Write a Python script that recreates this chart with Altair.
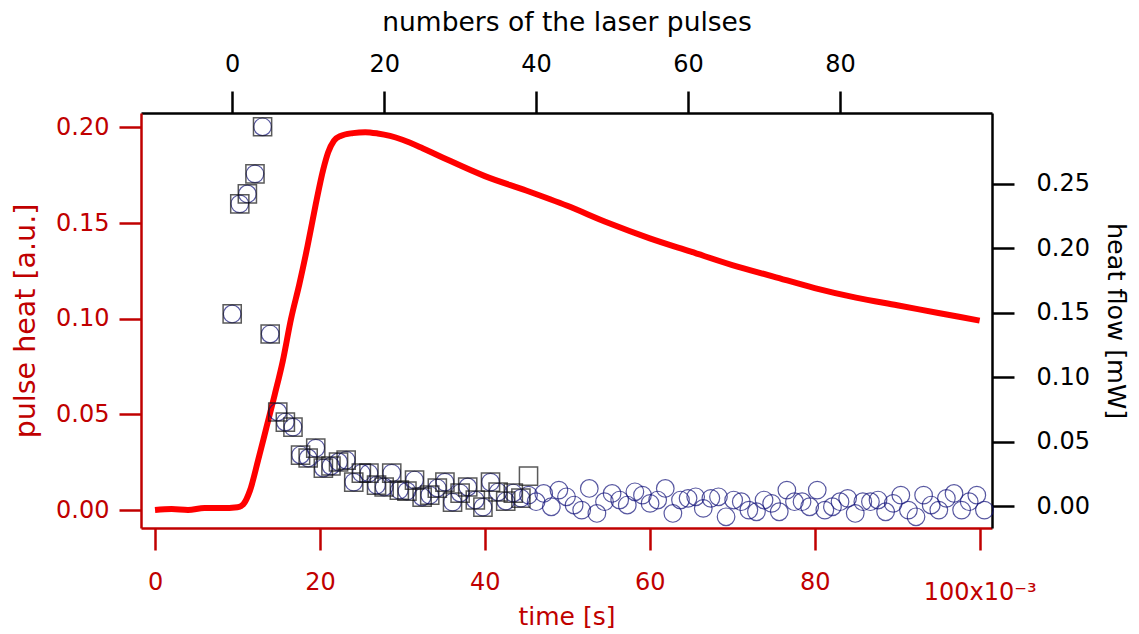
import altair as alt
import pandas as pd

# ---- red trace: pulse heat vs time (bottom / left axes) ----
time_s = [0, 2, 4, 6, 8, 10, 10.7, 11.5, 12.5, 13.5, 14.5, 15.5, 16.5, 17.5, 18.5,
          19.5, 20.4, 21, 21.7, 22.5, 24, 25.5, 27, 28.5, 30, 32.5, 35, 40,
          45, 50, 55, 60, 65, 70, 75, 80, 85, 90, 95, 100]
pulse_heat = [0.000, 0.0005, 0.000, 0.001, 0.001, 0.0015, 0.003, 0.010, 0.026, 0.043,
              0.060, 0.078, 0.100, 0.118, 0.138, 0.160, 0.178, 0.187, 0.193, 0.1955,
              0.197, 0.1975, 0.1968, 0.1955, 0.1935, 0.189, 0.184, 0.1745,
              0.167, 0.159, 0.150, 0.142, 0.135, 0.128, 0.122, 0.116, 0.111, 0.107,
              0.103, 0.099]

# ---- squares: heat flow vs pulse number (top / right axes) ----
sq_pulse = list(range(40))
sq_flow = [0.1491, 0.2345, 0.2422, 0.2578, 0.2943, 0.1335, 0.0730, 0.0652, 0.0613, 0.0396,
           0.0373, 0.0450, 0.0295, 0.0311, 0.0342, 0.0357, 0.0186, 0.0256, 0.0256, 0.0163,
           0.0148, 0.0256, 0.0124, 0.0116, 0.0202, 0.0070, 0.0085, 0.0140, 0.0186, 0.0031,
           0.0101, 0.0148, 0.0047, -0.0008, 0.0186, 0.0109, 0.0039, 0.0101, 0.0062, 0.0233]

# ---- circles: heat flow vs pulse number ----
circ_pulse = list(range(100))
circ_flow = [0.1491, 0.2345, 0.2422, 0.2578, 0.2943, 0.1335, 0.0730, 0.0652, 0.0613, 0.0396,
             0.0373, 0.0450, 0.0295, 0.0311, 0.0342, 0.0357, 0.0186, 0.0256, 0.0256, 0.0163,
             0.0148, 0.0256, 0.0124, 0.0116, 0.0202, 0.0070, 0.0085, 0.0140, 0.0186, 0.0031,
             0.0101, 0.0148, 0.0047, -0.0008, 0.0186, 0.0109, 0.0039, 0.0101, 0.0062, 0.0085,
             0.0034, 0.0098, -0.0005, 0.0124, 0.0072, 0.0008, -0.0031, 0.0137, -0.0057, 0.0034,
             0.0098, 0.0047, 0.0008, 0.0111, 0.0085, 0.0021, 0.0047, 0.0137, -0.0057, 0.0047,
             0.0060, 0.0072, -0.0018, 0.0060, 0.0072, -0.0083, 0.0047, 0.0034, -0.0031, -0.0044,
             0.0047, 0.0021, -0.0044, 0.0124, 0.0034, 0.0034, -0.0005, 0.0124, -0.0031, -0.0005,
             0.0034, 0.0060, -0.0057, 0.0034, 0.0034, 0.0047, -0.0044, 0.0021, 0.0085, -0.0031,
             -0.0083, 0.0085, 0.0008, -0.0031, 0.0060, 0.0098, -0.0031, 0.0034, 0.0085, -0.0031]

time_ticks = [0, 20, 40, 60, 80, 100]
pulse_ticks = [0, 20, 40, 60, 80]
heat_ticks = [0.0, 0.05, 0.10, 0.15, 0.20]
flow_ticks = [0.0, 0.05, 0.10, 0.15, 0.20, 0.25]

RED = "#c00000"
BLACK = "#000000"
FONT = "DejaVu Sans"
LBL = 24

line_df = pd.DataFrame({"time": time_s, "heat": pulse_heat})
sq_df = pd.DataFrame({"pulse": sq_pulse, "flow": sq_flow})
ci_df = pd.DataFrame({"pulse": circ_pulse, "flow": circ_flow})

x_time = alt.Scale(domain=[-1.7, 101.5], nice=False, zero=False)
y_heat = alt.Scale(domain=[-0.0094, 0.2075], nice=False, zero=False)
x_pulse = alt.Scale(domain=[-12, 100], nice=False, zero=False)
y_flow = alt.Scale(domain=[-0.017, 0.305], nice=False, zero=False)

common = dict(labelFont=FONT, labelFontSize=LBL, titleFont=FONT,
              titleFontWeight="normal", domainWidth=2.5, tickWidth=2.5, tickSize=22,
              grid=False, labelFlush=False, labelOverlap=False)

line = alt.Chart(line_df).mark_line(color="#ff0000", strokeWidth=6,
                                    interpolate="monotone").encode(
    x=alt.X("time:Q", scale=x_time, axis=alt.Axis(
        orient="bottom", values=time_ticks, title="time [s]", format="d",
        labelExpr="datum.value == 100 ? '100x10⁻³' : datum.label",
        labelPadding={"condition": {"test": "datum.value == 100", "value": 30}, "value": 20},
        domainColor=RED, tickColor=RED, labelColor=RED, titleColor=RED, titleFontSize=25,
        titleBaseline="alphabetic", titleY=96, **common)),
    y=alt.Y("heat:Q", scale=y_heat, axis=alt.Axis(
        orient="left", values=heat_ticks, title="pulse heat [a.u.]", format=".2f",
        labelPadding=10, domainColor=RED, tickColor=RED, labelColor=RED, titleColor=RED,
        titleFontSize=28.5, titleBaseline="middle", titleX=-116, titleY=207.5, **common)),
)

squares = alt.Chart(sq_df).mark_point(shape="square", filled=False, size=330,
                                      color="#151515", strokeWidth=1.5).encode(
    x=alt.X("pulse:Q", scale=x_pulse, axis=alt.Axis(
        orient="top", values=pulse_ticks, title="numbers of the laser pulses", format="d",
        labelPadding=15, domainColor=BLACK, tickColor=BLACK, labelColor=BLACK, titleColor=BLACK,
        titleFontSize=26.5, titleBaseline="alphabetic", titleY=-83, **common)),
    y=alt.Y("flow:Q", scale=y_flow, axis=alt.Axis(
        orient="right", values=flow_ticks, title="heat flow [mW]", format=".2f",
        labelPadding=22, domainColor=BLACK, tickColor=BLACK, labelColor=BLACK, titleColor=BLACK,
        titleFontSize=25.5, titleAngle=90, titleBaseline="middle", titleX=123, titleY=207.5,
        **common)),
)

circles = alt.Chart(ci_df).mark_point(shape="circle", filled=False, size=310,
                                      color="#12127a", strokeWidth=1.2).encode(
    x=alt.X("pulse:Q", scale=x_pulse, axis=None),
    y=alt.Y("flow:Q", scale=y_flow, axis=None),
)

chart = alt.layer(line, circles, squares).resolve_scale(
    x="independent", y="independent"
).properties(
    width=851, height=415,
    autosize=alt.AutoSizeParams(type="none"),
    padding={"left": 141, "top": 113, "right": 147, "bottom": 106},
).configure_view(stroke=None).configure(background="white")

chart.save("out.html", embed_options={"renderer": "svg", "actions": False})
